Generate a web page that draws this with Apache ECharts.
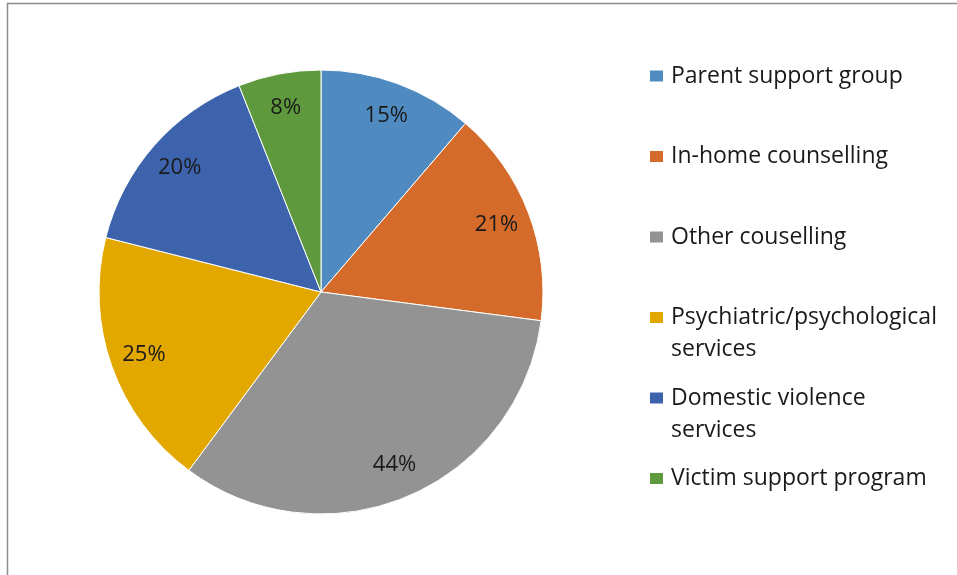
<!DOCTYPE html>
<html lang="en">
<head>
    <meta charset="UTF-8">
    <title>Support services</title>
    <script src="https://cdn.jsdelivr.net/npm/echarts@6/dist/echarts.min.js"></script>
    <style>
        html, body { margin: 0; padding: 0; background: #fff; }
        #main { width: 957px; height: 575px; }
    </style>
</head>
<body>
<div id="main"></div>
<script>
    // categories and the percentages printed on the slices
    var categories = ['Parent support group', 'In-home counselling', 'Other couselling',
        'Psychiatric/psychological services', 'Domestic violence services', 'Victim support program'];
    var percents = [15, 21, 44, 25, 20, 8];
    var colors = ['#4F8BC0', '#D46B2A', '#939393', '#E3A800', '#3D63AD', '#5E9A3D'];

    // legend wraps these two the same way the original does
    var legendLines = {
        'Psychiatric/psychological services': ['Psychiatric/psychological', 'services'],
        'Domestic violence services': ['Domestic violence', 'services']
    };

    var myChart = echarts.init(document.getElementById('main'));

    var pieData = categories.map(function (name, i) {
        return { name: name, value: percents[i], itemStyle: { color: colors[i] } };
    });

    var font = 'Open Sans';

    var option = {
        animation: false,
        backgroundColor: '#fff',
        legend: {
            orient: 'vertical',
            left: 643,
            top: 55,
            itemWidth: 15,
            itemHeight: 13,
            itemGap: 21,
            icon: 'rect',
            data: categories,
            // every entry gets a hanging second line (blank one if it doesn't wrap),
            // so the icon stays on the first line and the pitch is the same for all
            formatter: function (name) {
                var l = legendLines[name];
                if (!l) return '{a|' + name + '}\n{h|x}';
                return '{a|' + l[0] + '}\n{b|' + l[1] + '}';
            },
            textStyle: {
                fontFamily: font,
                fontSize: 23,
                lineHeight: 32,
                color: '#1a1a1a',
                padding: [0, 0, 0, 2],
                rich: {
                    a: { fontFamily: font, fontSize: 23, lineHeight: 32, color: '#1a1a1a' },
                    b: { fontFamily: font, fontSize: 23, lineHeight: 0, color: '#1a1a1a', padding: [32, 0, 0, 0] },
                    h: { fontFamily: font, fontSize: 23, lineHeight: 0, color: 'rgba(0,0,0,0)', padding: [32, 0, 0, 0] }
                }
            }
        },
        graphic: [{
            type: 'polyline',
            silent: true,
            shape: { points: [[7.5, 575], [7.5, 3.5], [957, 3.5]] },
            style: { stroke: '#8c8c8c', lineWidth: 1.5, fill: null }
        }],
        series: [{
            // the filled pie
            type: 'pie',
            center: [321, 292],
            radius: 222,
            startAngle: 90,
            clockwise: true,
            silent: true,
            label: { show: false },
            labelLine: { show: false },
            itemStyle: { borderColor: '#fff', borderWidth: 1 },
            data: pieData
        }, {
            // a transparent ring on top, only to put the labels out near the rim
            type: 'pie',
            center: [321, 292],
            radius: [148, 222],
            startAngle: 90,
            clockwise: true,
            silent: true,
            itemStyle: { color: 'rgba(0,0,0,0)' },
            label: {
                show: true,
                position: 'inside',
                formatter: '{c}%',
                fontFamily: font,
                fontSize: 22,
                color: '#1a1a1a'
            },
            labelLine: { show: false },
            data: categories.map(function (name, i) {
                return { name: name, value: percents[i] };
            })
        }]
    };

    myChart.setOption(option);
</script>
</body>
</html>
